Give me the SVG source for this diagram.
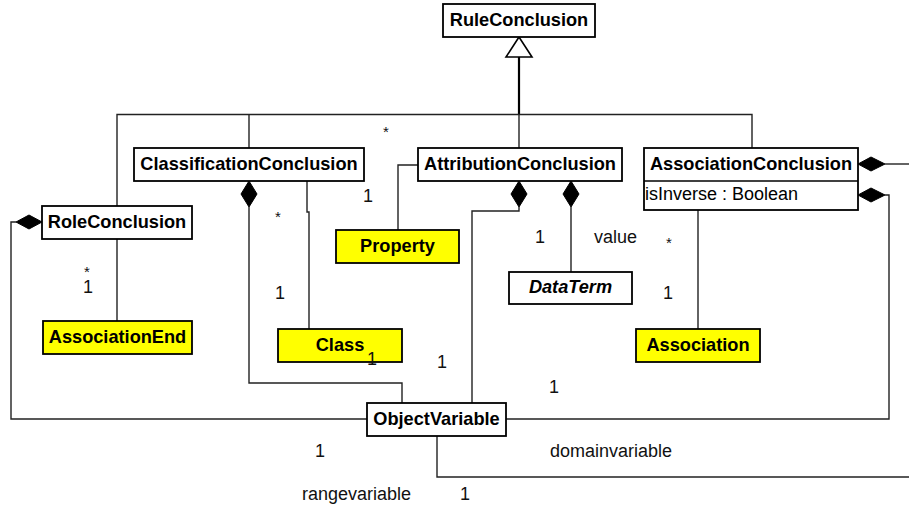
<svg xmlns="http://www.w3.org/2000/svg" width="909" height="511" viewBox="0 0 909 511">
  <style>
    .box { fill: #ffffff; stroke: #000000; stroke-width: 1.8; }
    .hl { fill: #ffff00; stroke: #000000; stroke-width: 1.8; }
    .name { font-family: "Liberation Sans", Arial, sans-serif; font-size: 18.2px; font-weight: bold; text-anchor: middle; fill: #000; }
    .abs { font-style: italic; }
    .attr { font-family: "Liberation Sans", Arial, sans-serif; font-size: 18px; fill: #000; }
    .lbl { font-family: "Liberation Sans", Arial, sans-serif; font-size: 18px; fill: #111; }
    .star { font-family: "Liberation Sans", Arial, sans-serif; font-size: 15px; fill: #111; }
    .ln { fill: none; stroke: #222; stroke-width: 1.4; }
    .dia { fill: #000; stroke: #000; stroke-width: 1; }
  </style>

  <!-- connectors -->
  <g id="connectors">
    <!-- generalization tree -->
    <line x1="519" y1="57" x2="519" y2="114.5" stroke="#000" stroke-width="2.2"/>
    <polygon points="519,37 506,57 532,57" fill="#fff" stroke="#000" stroke-width="1.6"/>
    <polyline class="ln" points="117,206 117,114.5 752,114.5 752,148"/>
    <line class="ln" x1="249" y1="114.5" x2="249" y2="148"/>
    <line class="ln" x1="519" y1="114.5" x2="519" y2="148"/>

    <!-- RoleConclusion - AssociationEnd -->
    <line class="ln" x1="117" y1="239" x2="117" y2="321"/>
    <!-- RoleConclusion - ObjectVariable -->
    <polyline class="ln" points="16,222 11,222 11,419 367,419"/>
    <polygon class="dia" points="16,222 29,215 42,222 29,229"/>

    <!-- ClassificationConclusion - ObjectVariable -->
    <polygon class="dia" points="249,181 241,194 249,207 257,194"/>
    <polyline class="ln" points="249,207 249,383 402,383 402,403"/>
    <!-- ClassificationConclusion - Class -->
    <polyline class="ln" points="307,181 307,212 309,212 309,329"/>

    <!-- AttributionConclusion - Property -->
    <polyline class="ln" points="418,165 398,165 398,230"/>
    <!-- AttributionConclusion - ObjectVariable -->
    <polygon class="dia" points="519,181 511,194 519,207 527,194"/>
    <polyline class="ln" points="519,207 519,211 472,211 472,403"/>
    <!-- AttributionConclusion - DataTerm -->
    <polygon class="dia" points="571,181 563,194 571,207 579,194"/>
    <line class="ln" x1="571" y1="207" x2="571" y2="272"/>

    <!-- AssociationConclusion - Association -->
    <line class="ln" x1="698" y1="210" x2="698" y2="329"/>
    <!-- AssociationConclusion compositions -->
    <polygon class="dia" points="858,164 871,157 885,164 871,171"/>
    <line class="ln" x1="885" y1="164" x2="909" y2="164"/>
    <polygon class="dia" points="858,195 871,188 885,195 871,202"/>
    <polyline class="ln" points="885,195 889,195 889,419 506,419"/>

    <!-- ObjectVariable outgoing -->
    <polyline class="ln" points="437,436 437,477 909,477"/>
  </g>

  <!-- nodes -->
  <g id="RuleConclusion">
    <rect class="box" x="443" y="4" width="152" height="33"/>
    <text class="name" x="519" y="26">RuleConclusion</text>
  </g>
  <g id="ClassificationConclusion">
    <rect class="box" x="134" y="148" width="230" height="33"/>
    <text class="name" x="249" y="170">ClassificationConclusion</text>
  </g>
  <g id="AttributionConclusion">
    <rect class="box" x="418" y="148" width="204" height="33"/>
    <text class="name" x="520" y="170">AttributionConclusion</text>
  </g>
  <g id="AssociationConclusion">
    <rect class="box" x="644" y="148" width="214" height="62"/>
    <line x1="644" y1="181" x2="858" y2="181" stroke="#000" stroke-width="1.6"/>
    <text class="name" x="751" y="170">AssociationConclusion</text>
    <text class="attr" x="645" y="200">isInverse : Boolean</text>
  </g>
  <g id="RoleConclusion">
    <rect class="box" x="42" y="206" width="150" height="33"/>
    <text class="name" x="117" y="228">RoleConclusion</text>
  </g>
  <g id="Property">
    <rect class="hl" x="336" y="230" width="123" height="33"/>
    <text class="name" x="397.5" y="252">Property</text>
  </g>
  <g id="DataTerm">
    <rect class="box" x="509" y="272" width="123" height="32"/>
    <text class="name abs" x="570.5" y="293">DataTerm</text>
  </g>
  <g id="AssociationEnd">
    <rect class="hl" x="43" y="321" width="149" height="33"/>
    <text class="name" x="117.5" y="343">AssociationEnd</text>
  </g>
  <g id="Class">
    <rect class="hl" x="278" y="329" width="124" height="33"/>
    <text class="name" x="340" y="351">Class</text>
  </g>
  <g id="Association">
    <rect class="hl" x="636" y="329" width="124" height="33"/>
    <text class="name" x="698" y="351">Association</text>
  </g>
  <g id="ObjectVariable">
    <rect class="box" x="367" y="403" width="139" height="33"/>
    <text class="name" x="436.5" y="425">ObjectVariable</text>
  </g>

  <!-- multiplicities and role names -->
  <g id="labels">
    <text class="star" x="383" y="137">*</text>
    <text class="lbl" x="363" y="202">1</text>
    <text class="star" x="275" y="222">*</text>
    <text class="lbl" x="275" y="299">1</text>
    <text class="star" x="84" y="277">*</text>
    <text class="lbl" x="83" y="293">1</text>
    <text class="lbl" x="367" y="365">1</text>
    <text class="lbl" x="437" y="368">1</text>
    <text class="lbl" x="549" y="393">1</text>
    <text class="lbl" x="535" y="243">1</text>
    <text class="lbl" x="594" y="243">value</text>
    <text class="star" x="666" y="248">*</text>
    <text class="lbl" x="663" y="299">1</text>
    <text class="lbl" x="315" y="457">1</text>
    <text class="lbl" x="550" y="457">domainvariable</text>
    <text class="lbl" x="302" y="500">rangevariable</text>
    <text class="lbl" x="460" y="500">1</text>
  </g>
</svg>
